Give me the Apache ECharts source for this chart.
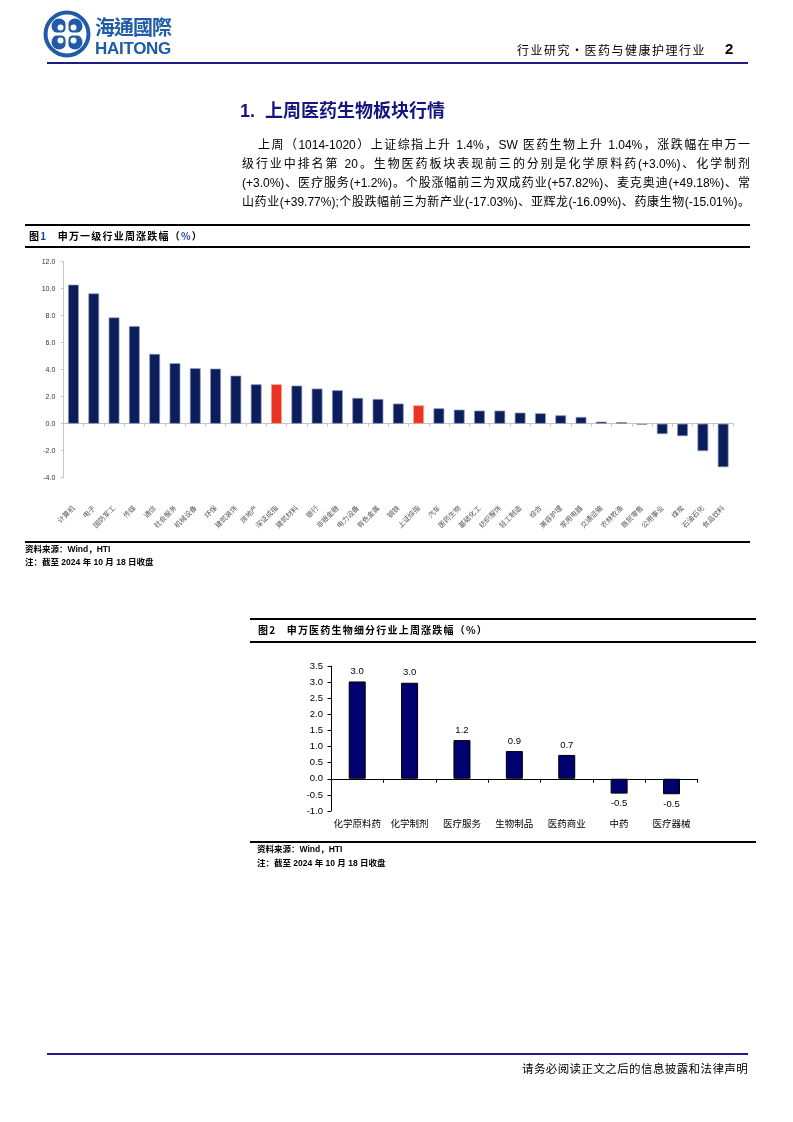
<!DOCTYPE html>
<html>
<head>
<meta charset="utf-8">
<script src="https://cdn.jsdelivr.net/npm/echarts@6/dist/echarts.min.js"></script>
<style>
  html,body{margin:0;padding:0;background:#fff;}
  #page{position:relative;width:793px;height:1122px;overflow:hidden;font-family:"Liberation Sans","Noto Sans CJK SC",sans-serif;}
  #chart{position:absolute;left:0;top:0;width:793px;height:1122px;}
  .t{position:absolute;white-space:nowrap;color:#000;}
  .hl{position:absolute;background:#000;}
  .pl{position:absolute;left:242px;width:508px;font-size:12px;line-height:19px;height:19px;text-align:justify;text-align-last:justify;white-space:nowrap;font-family:"Liberation Sans","Noto Sans CJK SC",sans-serif;}
  .cap{position:absolute;font-size:10px;font-weight:bold;line-height:14px;font-family:"Noto Sans CJK SC",sans-serif;letter-spacing:1.2px;}
  .src{position:absolute;font-size:8.5px;font-weight:bold;line-height:12px;font-family:"Liberation Sans","Noto Sans CJK SC",sans-serif;}
</style>
</head>
<body>
<div id="page">
  <div id="chart"></div>

  <!-- header logo -->
  <svg style="position:absolute;left:41px;top:9px" width="54" height="52" viewBox="0 0 54 52">
    <circle cx="26" cy="25" r="23.5" fill="#1f5ba6"/>
    <circle cx="26" cy="25" r="19.5" fill="#fff"/>
    <circle cx="18" cy="17" r="7.5" fill="#1f5ba6"/>
    <circle cx="34" cy="17" r="7.5" fill="#1f5ba6"/>
    <circle cx="18" cy="33" r="7.5" fill="#1f5ba6"/>
    <circle cx="34" cy="33" r="7.5" fill="#1f5ba6"/>
    <circle cx="19.5" cy="18.5" r="3" fill="#fff"/>
    <circle cx="32.5" cy="18.5" r="3" fill="#fff"/>
    <circle cx="19.5" cy="31.5" r="3" fill="#fff"/>
    <circle cx="32.5" cy="31.5" r="3" fill="#fff"/>
    <rect x="24.5" y="6" width="3" height="38" fill="#fff"/>
    <rect x="7" y="23.5" width="38" height="3" fill="#fff"/>
  </svg>
  <div class="t" style="left:95px;top:14px;font-size:20px;line-height:26px;font-weight:bold;color:#1f5ba6;letter-spacing:-1px;font-family:'Noto Sans CJK TC',sans-serif;">海通國際</div>
  <div class="t" style="left:95px;top:38px;font-size:17px;line-height:22px;font-weight:bold;color:#1f5ba6;font-family:'Liberation Sans',sans-serif;letter-spacing:-0.3px;">HAITONG</div>
  <div class="t" style="left:517px;top:42px;font-size:12px;line-height:16px;letter-spacing:1.5px;font-family:'Noto Sans CJK SC',sans-serif;">行业研究•医药与健康护理行业</div>
  <div class="t" style="left:725px;top:40px;font-size:15px;line-height:18px;font-weight:bold;">2</div>
  <div class="hl" style="left:47px;top:62px;width:701px;height:2px;background:#1f1b86;"></div>

  <!-- section title -->
  <div class="t" style="left:240px;top:99px;font-size:18px;line-height:24px;font-weight:bold;color:#14147f;font-family:'Liberation Sans','Noto Sans CJK SC',sans-serif;">1.&nbsp;&nbsp;上周医药生物板块行情</div>

  <div class="pl" style="top:136px;left:258px;width:492px;">上周（1014-1020）上证综指上升 1.4%，SW 医药生物上升 1.04%，涨跌幅在申万一</div>
  <div class="pl" style="top:155px;">级行业中排名第 20。生物医药板块表现前三的分别是化学原料药(+3.0%)、化学制剂</div>
  <div class="pl" style="top:174px;">(+3.0%)、医疗服务(+1.2%)。个股涨幅前三为双成药业(+57.82%)、麦克奥迪(+49.18%)、常</div>
  <div class="pl" style="top:193px;">山药业(+39.77%);个股跌幅前三为新产业(-17.03%)、亚辉龙(-16.09%)、药康生物(-15.01%)。</div>

  <!-- figure 1 frame -->
  <div class="hl" style="left:25px;top:224px;width:725px;height:1.5px;"></div>
  <div class="cap" style="left:29px;top:229px;">图<span style="color:#1f3fa0">1</span>&nbsp;&nbsp;&nbsp;申万一级行业周涨跌幅（<span style="color:#1f3fa0">%</span>）</div>
  <div class="hl" style="left:25px;top:246px;width:725px;height:1.5px;"></div>
  <div class="hl" style="left:25px;top:541px;width:725px;height:1.5px;"></div>
  <div class="src" style="left:25px;top:543px;">资料来源：Wind，HTI</div>
  <div class="src" style="left:25px;top:556px;">注：截至 2024 年 10 月 18 日收盘</div>

  <!-- figure 2 frame -->
  <div class="hl" style="left:250px;top:618px;width:506px;height:1.5px;"></div>
  <div class="cap" style="left:258px;top:623px;">图2&nbsp;&nbsp;&nbsp;申万医药生物细分行业上周涨跌幅（%）</div>
  <div class="hl" style="left:250px;top:641px;width:506px;height:1.5px;"></div>
  <div class="hl" style="left:250px;top:841px;width:506px;height:1.5px;"></div>
  <div class="src" style="left:257px;top:843px;">资料来源：Wind，HTI</div>
  <div class="src" style="left:257px;top:857px;">注：截至 2024 年 10 月 18 日收盘</div>

  <!-- footer -->
  <div class="hl" style="left:47px;top:1053px;width:701px;height:2px;background:#1f1b86;"></div>
  <div class="t" style="left:522px;top:1061px;font-size:11.5px;line-height:15px;letter-spacing:0.4px;font-family:'Noto Sans CJK SC',sans-serif;">请务必阅读正文之后的信息披露和法律声明</div>
</div>

<script>
// ---- Figure 1: 申万一级行业周涨跌幅（%） ----
const industries = ['计算机','电子','国防军工','传媒','通信','社会服务','机械设备','环保','建筑装饰','房地产','深证成指','建筑材料','银行','非银金融','电力设备','有色金属','钢铁','上证综指','汽车','医药生物','基础化工','纺织服饰','轻工制造','综合','美容护理','家用电器','交通运输','农林牧渔','商贸零售','公用事业','煤炭','石油石化','食品饮料'];
const industryChange = [10.30,9.65,7.87,7.23,5.17,4.48,4.11,4.08,3.56,2.92,2.92,2.82,2.60,2.48,1.91,1.83,1.49,1.36,1.14,1.04,0.97,0.97,0.82,0.77,0.62,0.50,0.15,0.12,-0.08,-0.77,-0.92,-2.03,-3.22];
const indexNames = ['深证成指','上证综指'];

// ---- Figure 2: 申万医药生物细分行业上周涨跌幅（%） ----
const subIndustries = ['化学原料药','化学制剂','医疗服务','生物制品','医药商业','中药','医疗器械'];
const subChange = [3.02,2.98,1.20,0.86,0.74,-0.46,-0.48];

const CJK = '"Noto Sans CJK SC", sans-serif';
const LAT = '"Liberation Sans", Arial, sans-serif';

const data1 = industries.map((n, i) => {
  const hi = indexNames.includes(n);
  return {
    value: industryChange[i],
    itemStyle: hi ? {color:'#ea3323', borderColor:'#f4a09a', borderWidth:0.7}
                  : {color:'#0b1d5a', borderColor:'#8e99bb', borderWidth:0.7}
  };
});
const data2 = subChange.map(v => ({
  value: v,
  label: {position: v >= 0 ? 'top' : 'bottom'}
}));

const chart = echarts.init(document.getElementById('chart'), null, {renderer:'canvas'});
chart.setOption({
  animation: false,
  backgroundColor: 'transparent',
  grid: [
    {left: 63.3, top: 261.7, width: 670, height: 216, containLabel: false},
    {left: 331, top: 666, width: 366.7, height: 145, containLabel: false}
  ],
  xAxis: [
    {
      gridIndex: 0, type: 'category', data: industries,
      axisLine: {onZero: true, lineStyle: {color: '#c6c6c6', width: 1}},
      axisTick: {show: true, interval: 0, length: 3, lineStyle: {color: '#c6c6c6'}},
      axisLabel: {interval: 0, rotate: 45, margin: 29, fontSize: 7, color: '#555', fontFamily: CJK},
      splitLine: {show: false}
    },
    {
      gridIndex: 1, type: 'category', data: subIndustries,
      axisLine: {onZero: true, lineStyle: {color: '#000', width: 1}},
      axisTick: {show: true, interval: 0, length: 4, lineStyle: {color: '#000'}},
      axisLabel: {interval: 0, margin: 8, fontSize: 9.5, color: '#000', fontFamily: CJK},
      splitLine: {show: false}
    }
  ],
  yAxis: [
    {
      gridIndex: 0, type: 'value', min: -4, max: 12, interval: 2,
      axisLine: {show: true, lineStyle: {color: '#c6c6c6'}},
      axisTick: {show: true, length: 2.5, lineStyle: {color: '#c6c6c6'}},
      axisLabel: {formatter: v => v.toFixed(1), fontSize: 7, color: '#333', margin: 8, fontFamily: LAT},
      splitLine: {show: false}
    },
    {
      gridIndex: 1, type: 'value', min: -1, max: 3.5, interval: 0.5,
      axisLine: {show: true, lineStyle: {color: '#000'}},
      axisTick: {show: true, length: 3.5, lineStyle: {color: '#000'}},
      axisLabel: {formatter: v => v.toFixed(1), fontSize: 9.5, color: '#000', margin: 8, fontFamily: LAT},
      splitLine: {show: false}
    }
  ],
  series: [
    {
      type: 'bar', xAxisIndex: 0, yAxisIndex: 0, data: data1,
      barWidth: '53%'
    },
    {
      type: 'bar', xAxisIndex: 1, yAxisIndex: 1, data: data2,
      barWidth: 17,
      itemStyle: {color: '#00006e', borderColor: '#000', borderWidth: 1},
      label: {show: true, distance: 5, formatter: p => p.value.toFixed(1), fontSize: 9.5, color: '#000', fontFamily: LAT}
    }
  ]
});
</script>
</body>
</html>
